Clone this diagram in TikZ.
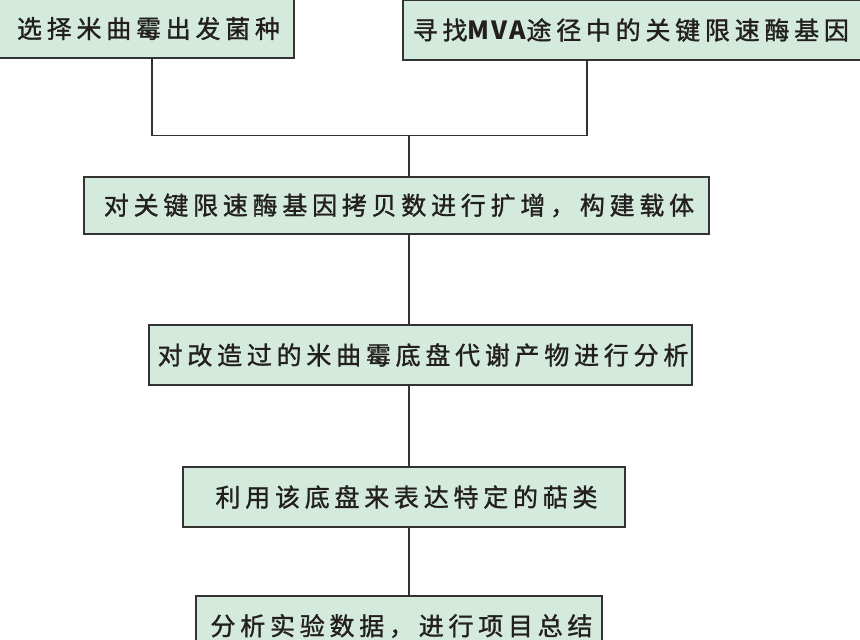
\documentclass[tikz,border=0pt]{standalone}
\usepackage{fontspec}
\setmainfont{Noto Sans CJK SC}[LetterSpace=19,FakeBold=1.2]
\newfontfamily\mvafont{Noto Sans CJK SC}[LetterSpace=10]
\definecolor{boxfill}{HTML}{D3EADC}
\definecolor{boxline}{HTML}{333333}
\definecolor{txt}{HTML}{231F20}
\begin{document}
\begin{tikzpicture}[x=1pt,y=-1pt,
  stepbox/.style={draw=boxline, line width=1.5pt, fill=boxfill, inner sep=0pt,
    font=\fontsize{25}{29}\selectfont, text=txt},
  conn/.style={draw=boxline, line width=1.3pt}]
\useasboundingbox (0,0) rectangle (860,640);
\clip (0,0) rectangle (860,640);
\node[stepbox, minimum width=296pt, minimum height=59pt] (b1) at (146,28.5) {选择米曲霉出发菌种\kern-5pt};
\node[stepbox, anchor=west, minimum height=60pt, inner xsep=10pt] (b2) at (402,30) {寻找{\mvafont\bfseries MVA}途径中的关键限速酶基因\kern40pt};
\node[stepbox, minimum width=625pt, minimum height=57pt] (b3) at (396.5,205.5) {对关键限速酶基因拷贝数进行扩增，构建载体\kern-5pt};
\node[stepbox, minimum width=543pt, minimum height=60pt] (b4) at (420.5,355) {对改造过的米曲霉底盘代谢产物进行分析\kern-5pt};
\node[stepbox, minimum width=442pt, minimum height=60pt] (b5) at (404,497) {利用该底盘来表达特定的萜类\kern-5pt};
\node[stepbox, minimum width=406pt, minimum height=60pt] (b6) at (399,626) {分析实验数据，进行项目总结\kern-5pt};
\coordinate (jl) at (152,135.5);
\coordinate (jr) at (587,135.5);
\coordinate (jm) at (409,135.5);
\draw[conn] (b1.south -| jl) -- (jl) -- (jr) -- (b2.south -| jr);
\draw[conn] (jm) -- (b3.north -| jm);
\draw[conn] (b3.south -| jm) -- (b4.north -| jm);
\draw[conn] (b4.south -| jm) -- (b5.north -| jm);
\draw[conn] (b5.south -| jm) -- (b6.north -| jm);
\end{tikzpicture}
\end{document}
